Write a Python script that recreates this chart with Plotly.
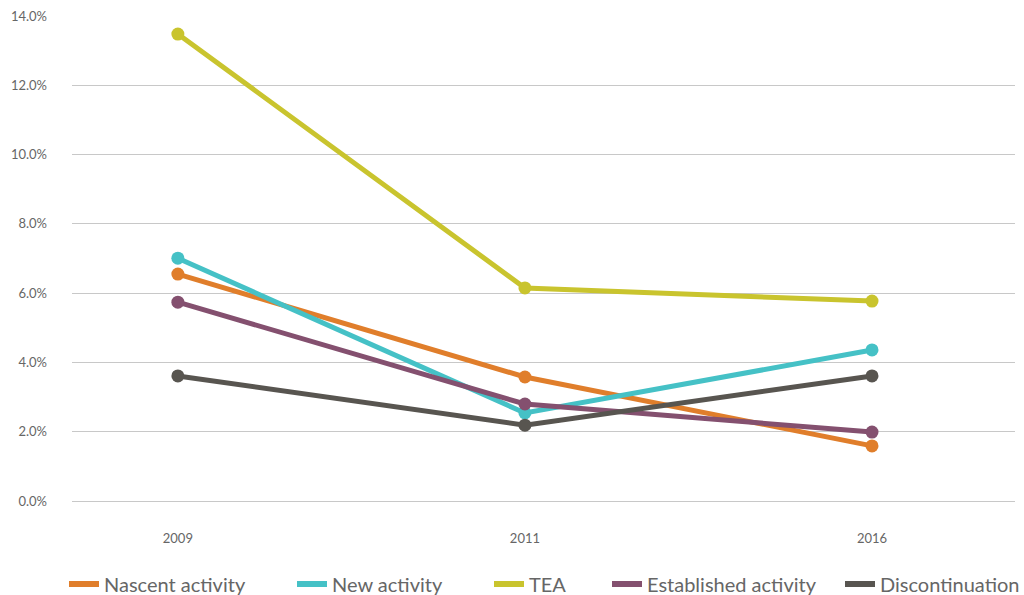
import plotly.graph_objects as go

years = ["2009", "2011", "2016"]
nascent = [6.55, 3.58, 1.59]
new_activity = [7.01, 2.54, 4.36]
tea = [13.48, 6.15, 5.77]
established = [5.74, 2.80, 1.99]
discontinuation = [3.61, 2.19, 3.61]

series = [
    ("Nascent activity", nascent, "#E07E2B"),
    ("New activity", new_activity, "#45C1C6"),
    ("TEA", tea, "#C9C42E"),
    ("Established activity", established, "#84506F"),
    ("Discontinuation", discontinuation, "#585550"),
]

ML, MR, MT, MB = 72, 9, 16, 94
PW = 1024 - ML - MR
PH = 595 - MT - MB

fig = go.Figure()
for name, vals, col in series:
    fig.add_trace(go.Scatter(
        x=years, y=vals, name=name, mode="lines+markers",
        line=dict(color=col, width=5),
        marker=dict(color=col, size=13),
        showlegend=False,
    ))

# legend entries: line-only swatches, each in its own legend for exact placement
text_starts = [105, 333, 530, 648, 881]  # px
legend_ids = ["legend", "legend2", "legend3", "legend4", "legend5"]
legend_layout = {}
for (name, vals, col), lid, tx in zip(series, legend_ids, text_starts):
    fig.add_trace(go.Scatter(
        x=[years[0]], y=[None], name=name, mode="lines",
        line=dict(color=col, width=6),
        showlegend=True, legend=lid,
    ))
    legend_layout[lid] = dict(
        orientation="h", x=(tx - 41 - ML) / PW, xanchor="left",
        y=-(584 - (595 - MB)) / PH, yanchor="middle",
        font=dict(size=20, color="#666666", family="Lato"), itemwidth=30,
        bgcolor="rgba(0,0,0,0)",
    )

fig.update_layout(
    width=1024, height=595,
    margin=dict(l=ML, r=MR, t=MT, b=MB, autoexpand=False),
    paper_bgcolor="white", plot_bgcolor="white",
    font=dict(family="Lato", color="#666666"),
    xaxis=dict(type="category", range=[-0.305, 2.412], showgrid=False, showline=False,
               zeroline=False, tickfont=dict(size=13, color="#666666"),
               ticklabelstandoff=28, automargin=False),
    yaxis=dict(range=[0, 14.001], tickmode="array",
               tickvals=[0, 2, 4, 6, 8, 10, 12, 14],
               ticktext=["0.0%", "2.0%", "4.0%", "6.0%", "8.0%", "10.0%", "12.0%", "14.0%"],
               showgrid=True, gridcolor="#c8c8c8", gridwidth=1,
               zeroline=True, zerolinecolor="#c8c8c8", zerolinewidth=1,
               showline=False, tickfont=dict(size=13, color="#666666"),
               ticklabelstandoff=24, automargin=False),
    **legend_layout,
)

fig.write_html("out.html", config={"displayModeBar": False},
               post_script="document.body.style.margin='0';")
